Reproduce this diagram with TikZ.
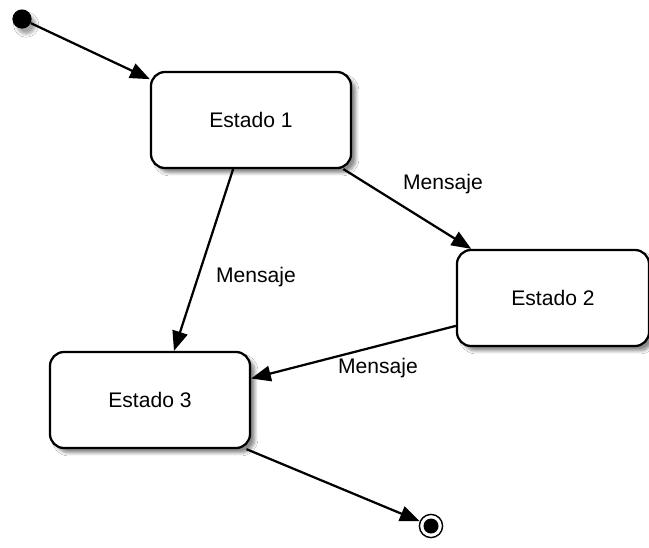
\documentclass[tikz,border=0pt]{standalone}
\usepackage{fontspec}
\setmainfont{Liberation Sans}
\usetikzlibrary{arrows.meta}
\usetikzlibrary{shadows.blur}

\begin{document}
\begin{tikzpicture}[x=0.025cm,y=-0.025cm,
  estado/.style={draw, line width=1.6pt, rounded corners=10pt, fill=white,
    minimum width=5.0cm, minimum height=2.4cm, font=\fontsize{15pt}{18pt}\selectfont,
    blur shadow={shadow xshift=3.5pt, shadow yshift=-3.5pt, shadow blur steps=6, shadow opacity=45}},
  flecha/.style={line width=1.6pt, -{Triangle[length=14pt,width=11pt]}},
  etiq/.style={font=\fontsize{15pt}{18pt}\selectfont}]
\fill [white] (0,0) rectangle (649,547);
\useasboundingbox (0,0) rectangle (649,547);

\node [circle, fill=black, inner sep=0pt, minimum size=0.48cm,
  blur shadow={shadow xshift=3pt, shadow yshift=-4pt, shadow opacity=35}] (ini) at (22,19) {};
\node [estado] (e1) at (251,120) {Estado 1};
\node [estado, minimum width=4.8cm] (e2) at (553,298) {Estado 2};
\node [estado] (e3) at (150,400) {Estado 3};
\node [circle, draw, line width=1pt, inner sep=0pt, minimum size=0.58cm] (fin) at (431,526) {};
\fill (fin) circle (7.5);

\draw [flecha] (ini) -- (e1.158);
\draw [flecha] (e1.332) -- (e2.149);
\draw [flecha] (e1.250) -- (e3.64);
\draw [flecha] (e2.196) -- (e3.12);
\draw [flecha] (e3.333) -- (fin);

\node [etiq] (m1) at (443,184) {Mensaje};
\node [etiq] (m2) at (256,277) {Mensaje};
\node [etiq] (m3) at (378,368) {Mensaje};

\end{tikzpicture}
\end{document}
